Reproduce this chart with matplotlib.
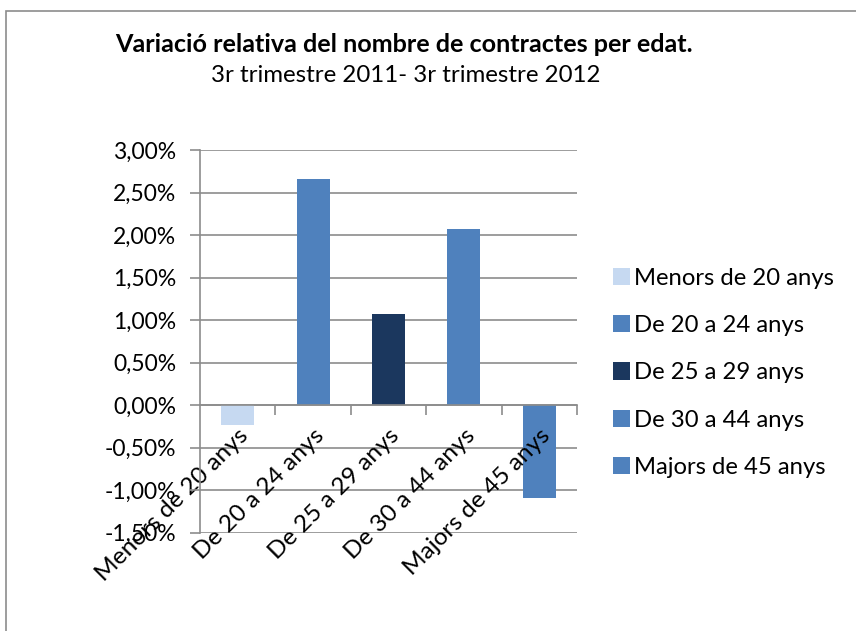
import matplotlib
matplotlib.use("Agg")
import matplotlib.pyplot as plt
from matplotlib.patches import Patch, Rectangle
from matplotlib.ticker import FuncFormatter

plt.rcParams['font.family'] = ['Lato', 'DejaVu Sans']

categories = ["Menors de 20 anys", "De 20 a 24 anys", "De 25 a 29 anys",
              "De 30 a 44 anys", "Majors de 45 anys"]
values = [-0.24, 2.66, 1.07, 2.07, -1.09]  # percent
colors = ["#C6D9F1", "#4F81BD", "#1B375E", "#4F81BD", "#4F81BD"]
yticks = [-1.5, -1.0, -0.5, 0.0, 0.5, 1.0, 1.5, 2.0, 2.5, 3.0]

title = "Variació relativa del nombre de contractes per edat."
subtitle = "3r trimestre 2011- 3r trimestre 2012"

W, H = 856, 631
fig = plt.figure(figsize=(W / 100, H / 100), dpi=100)

# outer frame
fig.patches.append(Rectangle((6 / W, -0.1), 1.2, (H - 11) / H + 0.1,
                             transform=fig.transFigure, fill=False,
                             edgecolor="#8c8c8c", linewidth=1.2))

ax = fig.add_axes([200 / W, 1 - 532.5 / H, (577 - 200) / W, (532.5 - 150) / H])
grid_c = "#8c8c8c"
x = list(range(len(categories)))
for yv in yticks:
    ax.axhline(yv, color=grid_c, linewidth=1.2, zorder=0.3)
ax.bar(x, values, width=0.44, color=colors, zorder=1)
ax.set_xlim(-0.5, len(categories) - 0.5)
ax.set_ylim(-1.5, 3.0)
ax.set_yticks(yticks)
ax.yaxis.set_major_formatter(FuncFormatter(lambda v, p: f"{v:.2f}%".replace(".", ",")))
for s in ["top", "right"]:
    ax.spines[s].set_visible(False)
ax.spines["left"].set_color(grid_c)
ax.spines["left"].set_linewidth(1.2)
ax.spines["bottom"].set_position(("data", 0))
ax.spines["bottom"].set_color(grid_c)
ax.spines["bottom"].set_linewidth(1.2)
ax.tick_params(axis="y", length=7, color=grid_c, width=1.2, labelsize=16.5, pad=10)
ax.set_xticks(x)
ax.set_xticklabels(categories, rotation=45, ha="right", va="top",
                   rotation_mode="anchor", fontsize=17.6)
ax.tick_params(axis="x", which="major", length=0, pad=14)
ax.set_xticks([i + 0.5 for i in range(len(categories))], minor=True)
ax.tick_params(axis="x", which="minor", length=7, color=grid_c, width=1.2)
ax.set_facecolor("none")
ax.xaxis.set_zorder(2)
ax.yaxis.set_zorder(2)

fig.text(404 / W, 1 - 45 / H, title, ha="center", va="center",
         fontsize=18.1, fontweight="bold")
fig.text(406 / W, 1 - 75 / H, subtitle, ha="center", va="center", fontsize=17.3)

handles = [Patch(facecolor=c) for c in colors]
fig.legend(handles, categories, loc="upper left",
           bbox_to_anchor=(603 / W, 1 - 258 / H), frameon=False, fontsize=17.2,
           handlelength=0.75, handleheight=0.75, handletextpad=0.15,
           labelspacing=1.1, borderaxespad=0)

fig.savefig("out.png", dpi=100)
